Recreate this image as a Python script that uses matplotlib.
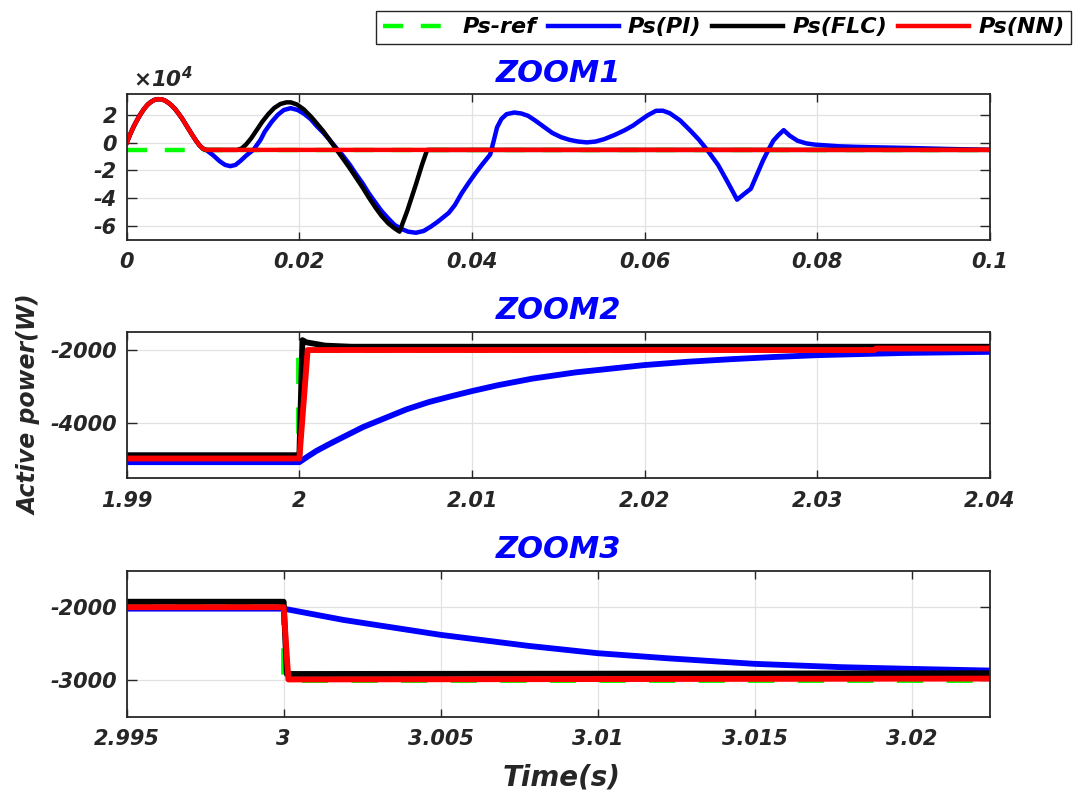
''' Active power of the stator: PI, FLC and NN controllers against the reference, three zoom windows. '''

import matplotlib
matplotlib.use('Agg')
import matplotlib.pyplot as plt
from matplotlib.ticker import FixedLocator, FuncFormatter

plt.rcParams['font.family'] = 'DejaVu Sans'
plt.rcParams['font.weight'] = 'bold'
plt.rcParams['font.style'] = 'italic'
plt.rcParams['axes.unicode_minus'] = False
plt.rcParams['mathtext.fontset'] = 'custom'
plt.rcParams['mathtext.rm'] = 'DejaVu Sans:italic'
plt.rcParams['mathtext.it'] = 'DejaVu Sans:italic'

FIG_W, FIG_H = 1073, 793
TEXT_COLOR = '#262626'
COLORS = {'ref': '#00ff00', 'pi': '#0000ff', 'flc': '#000000', 'nn': '#ff0000'}
LABELS = {'ref': 'Ps-ref', 'pi': 'Ps(PI)', 'flc': 'Ps(FLC)', 'nn': 'Ps(NN)'}

# ---- ZOOM1 : start-up (W) ----
# transient shared by every controller before they split
T_START = [0, 0.0004, 0.0008, 0.0012, 0.0016, 0.002, 0.0024, 0.0028, 0.0032, 0.0036,
           0.004, 0.0044, 0.0048, 0.0052, 0.0056, 0.006, 0.0064, 0.0068, 0.0072, 0.0076,
           0.008, 0.0084, 0.0088, 0.0092]
P_START = [0, 6000, 11500, 16200, 20500, 24200, 27200, 29300, 30700, 31300,
           31200, 30400, 28800, 26800, 24200, 21000, 17500, 13500, 9500, 5500,
           1700, -1700, -4200, -5200]

T1_REF = [0, 0.1]
P1_REF = [-5000, -5000]

T1_NN = T_START + [0.1]
P1_NN = P_START + [-5200]

T1_FLC = T_START + [0.0128, 0.0133, 0.0138, 0.0144, 0.015, 0.0157, 0.0164, 0.0171, 0.0178, 0.0185,
                    0.019, 0.0197, 0.0205, 0.0213, 0.022, 0.0228, 0.0235, 0.0243, 0.025, 0.0258,
                    0.0265, 0.0273, 0.028, 0.0288, 0.0295, 0.0303, 0.031, 0.0316, 0.0325, 0.0335,
                    0.0342, 0.0348, 0.1]
P1_FLC = P_START + [-5200, -4200, -1500, 3000, 8500, 15000, 20500, 25000, 27800, 29000,
                    29000, 27500, 24000, 19000, 14000, 8000, 2000, -5000, -11000, -18000,
                    -24500, -32000, -39000, -46500, -52500, -58000, -61500, -64000, -49000, -30000,
                    -16000, -5200, -5200]

T1_PI = T_START + [0.01, 0.0108, 0.0114, 0.012, 0.0126, 0.0132, 0.0138, 0.0147, 0.0155, 0.016,
                   0.0168, 0.0175, 0.0182, 0.019, 0.0198, 0.0205, 0.0213, 0.022, 0.0228, 0.0235,
                   0.0243, 0.025, 0.0258, 0.0265, 0.0273, 0.028, 0.0288, 0.0295, 0.0303, 0.031,
                   0.0318, 0.0326, 0.0335, 0.0344, 0.0352, 0.036, 0.0367, 0.0373, 0.038, 0.0388,
                   0.0396, 0.0404, 0.0412, 0.0421, 0.0425, 0.0429, 0.0434, 0.044, 0.0449, 0.0457,
                   0.0465, 0.0473, 0.0483, 0.0493, 0.0503, 0.0513, 0.0523, 0.0533, 0.0543, 0.0553,
                   0.0565, 0.0577, 0.0587, 0.0593, 0.0603, 0.0613, 0.0621, 0.0629, 0.0641, 0.0653,
                   0.0663, 0.0673, 0.0685, 0.0695, 0.0701, 0.0707, 0.0715, 0.0723, 0.073, 0.0737,
                   0.0743, 0.0749, 0.0755, 0.0761, 0.0768, 0.0777, 0.0787, 0.0797, 0.0811, 0.0825,
                   0.0845, 0.0865, 0.0905, 0.095, 0.1]
P1_PI = P_START + [-9000, -13500, -16000, -16900, -16000, -13000, -9500, -5000, 2000, 8000,
                   15000, 20000, 23500, 24800, 23500, 21000, 17000, 12000, 7000, 2000,
                   -4000, -9000, -15500, -22000, -29000, -36000, -43000, -49000, -54500, -59000,
                   -62000, -64000, -64800, -63500, -60500, -57000, -53500, -50500, -45000, -36400,
                   -29000, -22000, -15500, -8600, 1000, 11000, 17000, 20500, 21700, 21000,
                   19300, 16000, 11500, 7000, 4000, 2000, 800, 200, 800, 2500,
                   5500, 9000, 12500, 15200, 19500, 22900, 23000, 21200, 16000, 8600,
                   2000, -5700, -16000, -27100, -34000, -41000, -37000, -33100, -23000, -12900,
                   -5500, 1400, 5500, 9000, 5000, 1400, -500, -1400, -2000, -2600,
                   -3000, -3300, -3800, -4500, -5200]

# ---- ZOOM2 : step -5000 W -> -2000 W at t = 2 s ----
T2_REF = [1.99, 2.0, 2.0, 2.04]
P2_REF = [-5000, -5000, -2000, -2000]
T2_NN = [1.99, 2.0, 2.00048, 2.0333, 2.0334, 2.04]
P2_NN = [-4960, -4960, -2000, -2000, -1960, -1960]
T2_FLC = [1.99, 2.0, 2.00018, 2.0004, 2.0015, 2.003, 2.04]
P2_FLC = [-4870, -4870, -1730, -1790, -1880, -1910, -1910]
T2_PI = [1.99, 2.0, 2.0005, 2.001, 2.0018, 2.0026, 2.0037, 2.005, 2.0062, 2.0075, 2.0088,
         2.01, 2.0115, 2.0135, 2.016, 2.02, 2.0225, 2.025, 2.0275, 2.03, 2.035, 2.04]
P2_PI = [-5060, -5060, -4900, -4750, -4550, -4360, -4100, -3850, -3620, -3420, -3260,
         -3120, -2960, -2780, -2610, -2410, -2320, -2250, -2190, -2140, -2080, -2050]

# ---- ZOOM3 : step -2000 W -> -3000 W at t = 3 s ----
T3_REF = [2.995, 3.0, 3.0, 3.0225]
P3_REF = [-2000, -2000, -3000, -3000]
T3_NN = [2.995, 3.0, 3.00015, 3.0225]
P3_NN = [-2000, -2000, -2990, -2978]
T3_FLC = [2.995, 3.0, 3.0001, 3.0225]
P3_FLC = [-1925, -1925, -2915, -2905]
T3_PI = [2.995, 3.0, 3.0019, 3.005, 3.0078, 3.01, 3.0122, 3.015, 3.0178, 3.02, 3.0225]
P3_PI = [-2020, -2020, -2174, -2379, -2530, -2630, -2699, -2776, -2822, -2845, -2868]

X1_TICKS = [0, 0.02, 0.04, 0.06, 0.08, 0.1]
Y1_TICKS = [-60000, -40000, -20000, 0, 20000]
X2_TICKS = [1.99, 2.0, 2.01, 2.02, 2.03, 2.04]
Y2_TICKS = [-4000, -2000]
X3_TICKS = [2.995, 3.0, 3.005, 3.01, 3.015, 3.02]
Y3_TICKS = [-3000, -2000]


def frame(left, top, right, bottom):
    '''Pixel box -> figure fraction rectangle.'''
    return [left / FIG_W, 1 - bottom / FIG_H, (right - left) / FIG_W, (bottom - top) / FIG_H]


def style_axes(ax, xticks, yticks, xlim, ylim, title, yscale=1.0):
    '''Ticks, grid, frame and title in the same look for the three windows.'''
    ax.set_xlim(xlim)
    ax.set_ylim(ylim)
    ax.xaxis.set_major_locator(FixedLocator(xticks))
    ax.yaxis.set_major_locator(FixedLocator(yticks))
    ax.xaxis.set_major_formatter(FuncFormatter(lambda v, _: f"{v:g}"))
    ax.yaxis.set_major_formatter(FuncFormatter(lambda v, _: f"{v / yscale:g}"))
    ax.grid(True, color='#e2e2e2', linewidth=0.9)
    ax.tick_params(direction='in', top=True, right=True, colors=TEXT_COLOR,
                   labelsize=15, width=1.0)
    ax.tick_params(axis='x', length=5.5, pad=9)
    ax.tick_params(axis='y', length=7, pad=7)
    for spine in ax.spines.values():
        spine.set_color(TEXT_COLOR)
        spine.set_linewidth(1.3)
    ax.set_title(title, color='#0000ff', fontsize=22, fontweight='bold', pad=9)


def draw_window(ax, series, lw):
    '''Plot reference first, then PI, FLC and NN on top.'''
    lines = []
    for key, (t, p) in series.items():
        ls = (0, (4.5, 4)) if key == 'ref' else '-'
        line, = ax.plot(t, p, color=COLORS[key], linewidth=lw, linestyle=ls,
                        label=LABELS[key], solid_joinstyle='round')
        lines.append(line)
    return lines


def main():
    '''Main'''
    fig = plt.figure(figsize=(FIG_W / 100, FIG_H / 100), dpi=100)
    ax1 = fig.add_axes(frame(126.7, 94, 990, 240))
    ax2 = fig.add_axes(frame(126.7, 331.7, 990, 478.3))
    ax3 = fig.add_axes(frame(126.7, 570.7, 990, 716.7))

    handles = draw_window(ax1, {'ref': (T1_REF, P1_REF), 'pi': (T1_PI, P1_PI),
                                'flc': (T1_FLC, P1_FLC), 'nn': (T1_NN, P1_NN)}, 3.2)
    draw_window(ax2, {'ref': (T2_REF, P2_REF), 'pi': (T2_PI, P2_PI),
                      'flc': (T2_FLC, P2_FLC), 'nn': (T2_NN, P2_NN)}, 4.2)
    draw_window(ax3, {'ref': (T3_REF, P3_REF), 'pi': (T3_PI, P3_PI),
                      'flc': (T3_FLC, P3_FLC), 'nn': (T3_NN, P3_NN)}, 4.2)

    style_axes(ax1, X1_TICKS, Y1_TICKS, (0, 0.1), (-70000, 35000), 'ZOOM1', yscale=1e4)
    style_axes(ax2, X2_TICKS, Y2_TICKS, (1.99, 2.04), (-5500, -1500), 'ZOOM2')
    style_axes(ax3, X3_TICKS, Y3_TICKS, (2.995, 3.0225), (-3500, -1500), 'ZOOM3')

    # exponent of the first window
    ax1.text(0.007, 1.05, r'$\times10^{4}$', transform=ax1.transAxes, ha='left',
             va='baseline', fontsize=15.5, fontweight='normal', color=TEXT_COLOR)

    ax2.set_ylabel('Active power(W)', fontsize=17, fontweight='bold', color=TEXT_COLOR)
    ax2.yaxis.set_label_coords(-0.099, 0.5)
    ax3.set_xlabel('Time(s)', fontsize=20, fontweight='bold', color=TEXT_COLOR)
    ax3.xaxis.set_label_coords(0.504, -0.32)

    leg = fig.legend(handles=handles, loc='upper right', ncol=4,
                     bbox_to_anchor=(1071 / FIG_W, 1 - 10.7 / FIG_H),
                     fontsize=16, frameon=True, fancybox=False, framealpha=1,
                     edgecolor=TEXT_COLOR, handlelength=3.2, handletextpad=0.4,
                     columnspacing=0.5, borderpad=0.3, borderaxespad=0)
    leg.get_frame().set_linewidth(1.0)

    fig.savefig('out.png', dpi=100)


if __name__ == "__main__":
    main()
